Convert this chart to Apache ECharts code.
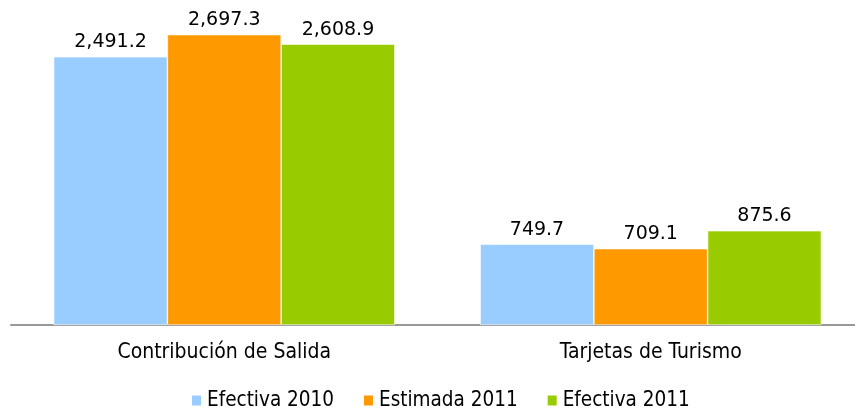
<!DOCTYPE html>
<html>
<head>
<meta charset="utf-8">
<script src="https://cdn.jsdelivr.net/npm/echarts@6/dist/echarts.min.js"></script>
<style>
html,body{margin:0;padding:0;background:#fff;overflow:hidden;}
#chart{width:864px;height:413px;}
</style>
</head>
<body>
<div id="chart"></div>
<script>
// Categories and series values (millones)
const categories = ['Contribución de Salida', 'Tarjetas de Turismo'];
const seriesNames = ['Efectiva 2010', 'Estimada 2011', 'Efectiva 2011'];
const efectiva2010 = [2491.2, 749.7];
const estimada2011 = [2697.3, 709.1];
const efectiva2011 = [2608.9, 875.6];
const colors = ['#99CCFF', '#FF9900', '#99CC00'];

const condensed = '"DejaVu Sans Condensed", "DejaVu Sans", sans-serif';
const wide = '"DejaVu Sans", sans-serif';
const fmt = v => v.toLocaleString('en-US', {minimumFractionDigits: 1, maximumFractionDigits: 1});

function makeSeries(name, data, color) {
  return {
    name: name,
    type: 'bar',
    data: data,
    barGap: '0%',
    barCategoryGap: '20%',
    itemStyle: {color: color, borderColor: '#ffffff', borderWidth: 0.6},
    label: {
      show: true,
      position: 'top',
      distance: 5,
      color: '#000',
      fontFamily: wide,
      fontSize: 19,
      formatter: p => fmt(p.value)
    }
  };
}

const chart = echarts.init(document.getElementById('chart'));
chart.setOption({
  animation: false,
  color: colors,
  // the plot runs slightly past the right edge of the visible page
  grid: {left: 11, right: 0, top: 2, bottom: 88},
  legend: {
    top: 390,
    left: 190,
    padding: 0,
    icon: 'rect',
    itemWidth: 11,
    itemHeight: 12,
    itemGap: 28,
    textStyle: {fontFamily: condensed, fontSize: 20.5, color: '#000', padding: [0, 0, 0, 0]},
    data: seriesNames
  },
  xAxis: {
    type: 'category',
    data: categories,
    axisLine: {lineStyle: {color: '#999999', width: 2}},
    axisTick: {show: false},
    axisLabel: {fontFamily: condensed, fontSize: 21, color: '#000', margin: 17}
  },
  yAxis: {
    type: 'value',
    min: 0,
    max: 3000,
    show: false
  },
  series: [
    makeSeries(seriesNames[0], efectiva2010, colors[0]),
    makeSeries(seriesNames[1], estimada2011, colors[1]),
    makeSeries(seriesNames[2], efectiva2011, colors[2])
  ]
});
</script>
</body>
</html>
